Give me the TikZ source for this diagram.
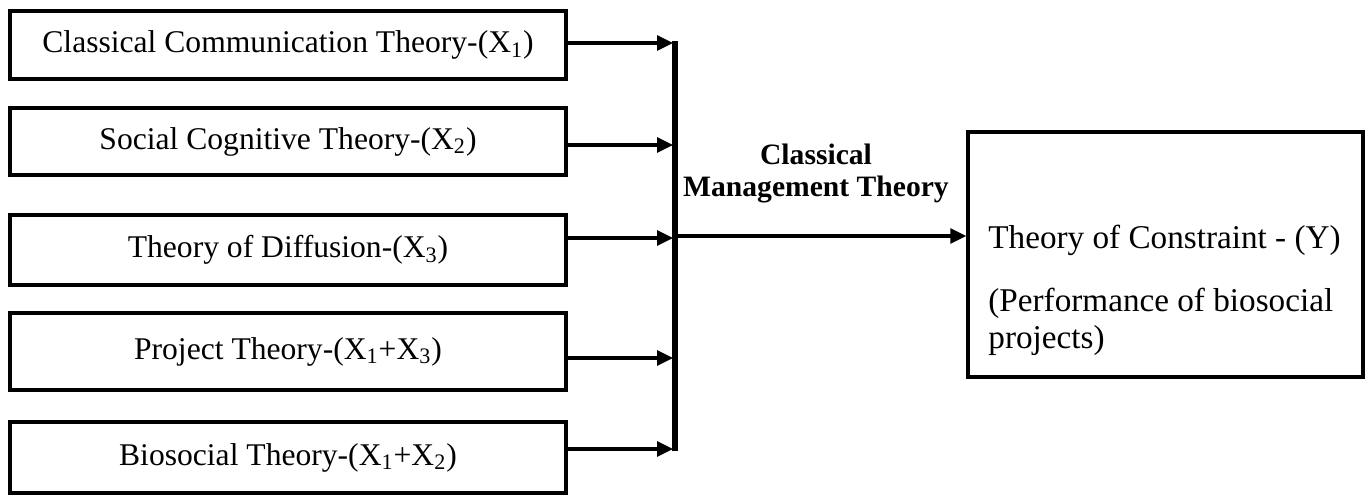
\documentclass[tikz,border=0pt]{standalone}
\usepackage{fontspec}
\setmainfont{Liberation Serif}
\usetikzlibrary{arrows.meta}
\begin{document}
\begin{tikzpicture}[x=0.5pt,y=-0.5pt,
  txt/.style={font=\fontsize{15.8}{18}\selectfont},
  lbox/.style={txt, draw, line width=1.75pt, minimum width=278pt, inner sep=0pt},
  rbox/.style={draw, line width=1.75pt, minimum width=197.5pt, minimum height=122.5pt, inner sep=0pt},
  feed/.style={line width=1.6pt, -{Triangle[length=8pt,width=7.5pt]}},
  bar/.style={line width=2.6pt},
  lab/.style={font=\fontsize{14.8}{17}\selectfont\bfseries, anchor=base, inner sep=0pt},
  rtxt/.style={font=\fontsize{16.6}{20}\selectfont, anchor=base west, inner sep=0pt}]
\useasboundingbox (0,0) rectangle (1368,496);
% left boxes
\node[lbox, minimum height=34pt]   (c1) at (288,45)    {Classical Communication Theory-(X\textsubscript{1})};
\node[lbox, minimum height=33.5pt] (c2) at (288,141.5) {Social Cognitive Theory-(X\textsubscript{2})};
\node[lbox, minimum height=35pt]   (c3) at (288,250)   {Theory of Diffusion-(X\textsubscript{3})};
\node[lbox, minimum height=38.5pt] (c4) at (288,351.5) {Project Theory-(X\textsubscript{1}+X\textsubscript{3})};
\node[lbox, minimum height=35.5pt] (c5) at (288,457.5) {Biosocial Theory-(X\textsubscript{1}+X\textsubscript{2})};
% bar
\coordinate (bt) at (675,41);
\coordinate (bb) at (675,451);
\draw[bar] (bt) -- (bb);
% feed targets
\coordinate (t1) at (673,43);
\coordinate (t2) at (673,145);
\coordinate (t3) at (673,238);
\coordinate (t4) at (673,358);
\coordinate (t5) at (673,449);
\draw[feed] (c1.east |- t1) -- (t1);
\draw[feed] (c2.east |- t2) -- (t2);
\draw[feed] (c3.east |- t3) -- (t3);
\draw[feed] (c4.east |- t4) -- (t4);
\draw[feed] (c5.east |- t5) -- (t5);
% right box
\node[rbox] (r) at (1165.5,254.5) {};
\coordinate (m) at (675,236);
\draw[feed] (m) -- (r.west |- m);
% label
\node[lab] (l1) at (816,165) {Classical};
\node[lab] (l2) at (816,197) {Management Theory};
% right text
\node[rtxt] (r1) at (988,249) {Theory of Constraint - (Y)};
\node[rtxt] (r2) at (988,312) {(Performance of biosocial};
\node[rtxt] (r3) at (988,348) {projects)};
\end{tikzpicture}
\end{document}
